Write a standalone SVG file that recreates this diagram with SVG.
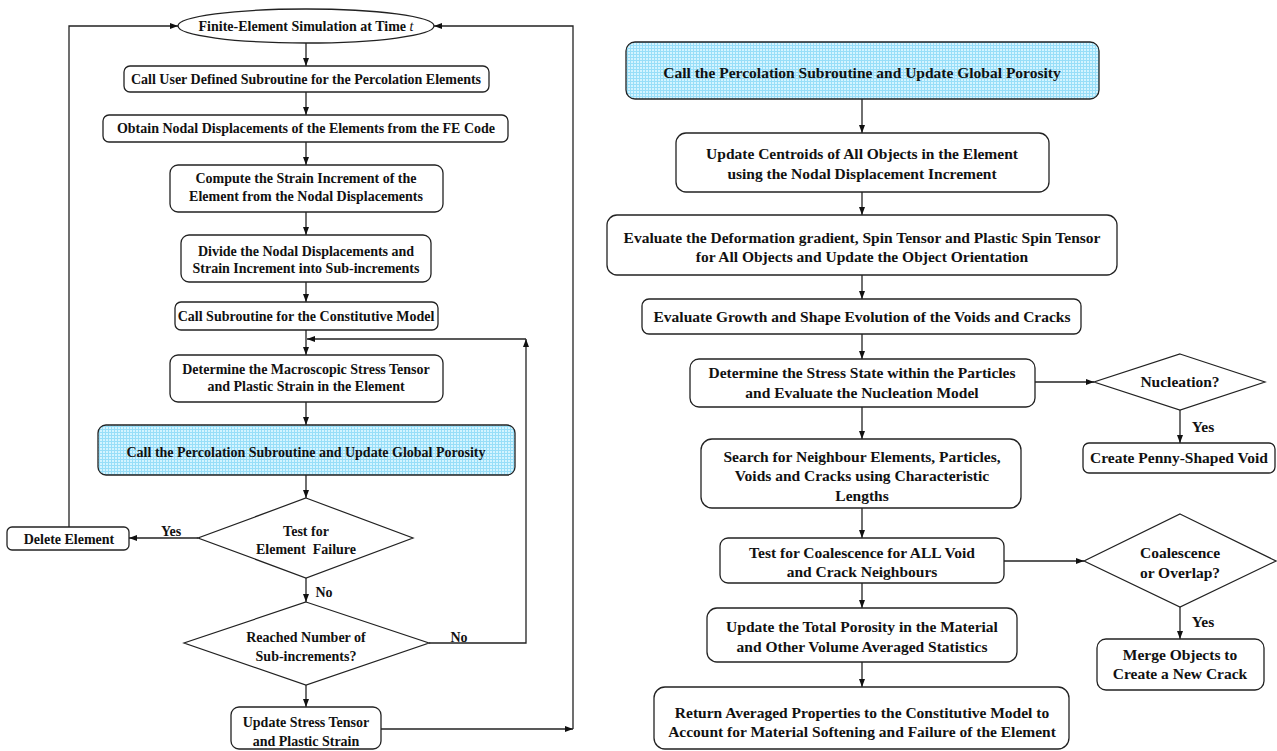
<svg xmlns="http://www.w3.org/2000/svg" width="1277" height="751" viewBox="0 0 1277 751">
  <defs>
    <pattern id="grid" width="3" height="3" patternUnits="userSpaceOnUse">
      <rect width="3" height="3" fill="#d4f4ff"/>
      <rect width="3" height="1" fill="#98def8"/>
      <rect width="1" height="3" fill="#98def8"/>
    </pattern>
    <marker id="arr" viewBox="0 0 8 6" refX="8" refY="3" markerWidth="8" markerHeight="6" markerUnits="userSpaceOnUse" orient="auto">
      <path d="M0,0 L8,3 L0,6 z" fill="#111"/>
    </marker>
    <style>
      .box { fill: #fff; stroke: #222; stroke-width: 1.3; }
      .hi { fill: url(#grid); stroke: #222; stroke-width: 1.3; }
      .dia { fill: #fff; stroke: #222; stroke-width: 1.2; }
      .t { font-family: "Liberation Serif", "Times New Roman", serif; font-weight: bold; fill: #111; text-anchor: middle; }
      .l { font-size: 14px; }
      .r { font-size: 15.5px; }
      .c { fill: none; stroke: #222; stroke-width: 1.3; }
      .pre { white-space: pre; }
    </style>
  </defs>

  <!-- connectors -->
  <g id="connectors">
    <!-- left column -->
    <path class="c" d="M306,43 V66" marker-end="url(#arr)"/>
    <path class="c" d="M306,92 V115" marker-end="url(#arr)"/>
    <path class="c" d="M306,142 V165" marker-end="url(#arr)"/>
    <path class="c" d="M306,212 V235" marker-end="url(#arr)"/>
    <path class="c" d="M306,282 V302" marker-end="url(#arr)"/>
    <path class="c" d="M306,330 V355" marker-end="url(#arr)"/>
    <path class="c" d="M306,402 V425" marker-end="url(#arr)"/>
    <path class="c" d="M306,475 V498" marker-end="url(#arr)"/>
    <path class="c" d="M306,578 V602" marker-end="url(#arr)"/>
    <path class="c" d="M306,685 V707" marker-end="url(#arr)"/>
    <path class="c" d="M198,538 H129" marker-end="url(#arr)"/>
    <path class="c" d="M69,527 V26 H178" marker-end="url(#arr)"/>
    <path class="c" d="M429,643 H526 V339" marker-end="url(#arr)"/>
    <path class="c" d="M526,339 H307" marker-end="url(#arr)"/>
    <path class="c" d="M381,729 H573" marker-end="url(#arr)"/>
    <path class="c" d="M573,729 V26 H434" marker-end="url(#arr)"/>
    <!-- right column -->
    <path class="c" d="M862,99 V133" marker-end="url(#arr)"/>
    <path class="c" d="M862,192 V215" marker-end="url(#arr)"/>
    <path class="c" d="M862,275 V299" marker-end="url(#arr)"/>
    <path class="c" d="M862,334 V359" marker-end="url(#arr)"/>
    <path class="c" d="M862,407 V439" marker-end="url(#arr)"/>
    <path class="c" d="M862,508 V538" marker-end="url(#arr)"/>
    <path class="c" d="M862,583 V608" marker-end="url(#arr)"/>
    <path class="c" d="M862,662 V687" marker-end="url(#arr)"/>
    <path class="c" d="M1035,382 H1094" marker-end="url(#arr)"/>
    <path class="c" d="M1180,410 V443" marker-end="url(#arr)"/>
    <path class="c" d="M1004,561 H1084" marker-end="url(#arr)"/>
    <path class="c" d="M1180,607 V639" marker-end="url(#arr)"/>
  </g>

  <!-- left flow -->
  <g id="start">
    <ellipse class="box" cx="306" cy="26" rx="128" ry="17"/>
    <text class="t l" x="306" y="31">Finite-Element Simulation at Time <tspan font-style="italic" font-weight="normal">t</tspan></text>
  </g>
  <g id="call-user">
    <rect class="box" x="124" y="66" width="365" height="26" rx="6"/>
    <text class="t l" x="306" y="84">Call User Defined Subroutine for the Percolation Elements</text>
  </g>
  <g id="obtain-nodal">
    <rect class="box" x="103" y="115" width="405" height="27" rx="6"/>
    <text class="t l" x="306" y="133">Obtain Nodal Displacements of the Elements from the FE Code</text>
  </g>
  <g id="compute-strain">
    <rect class="box" x="170" y="165" width="273" height="47" rx="8"/>
    <text class="t l" x="306" y="183">Compute the Strain Increment of the</text>
    <text class="t l" x="306" y="201">Element from the Nodal Displacements</text>
  </g>
  <g id="divide">
    <rect class="box" x="181" y="235" width="250" height="47" rx="8"/>
    <text class="t l" x="306" y="256">Divide the Nodal Displacements and</text>
    <text class="t l" x="306" y="273">Strain Increment into Sub-increments</text>
  </g>
  <g id="call-constitutive">
    <rect class="box" x="175" y="302" width="263" height="28" rx="6"/>
    <text class="t l" x="306" y="321">Call Subroutine for the Constitutive Model</text>
  </g>
  <g id="determine-stress">
    <rect class="box" x="170" y="355" width="273" height="47" rx="8"/>
    <text class="t l" x="306" y="374">Determine the Macroscopic Stress Tensor</text>
    <text class="t l" x="306" y="391">and Plastic Strain in the Element</text>
  </g>
  <g id="percolation-left">
    <rect class="hi" x="98" y="425" width="417" height="50" rx="8"/>
    <text class="t l" x="306" y="457">Call the Percolation Subroutine and Update Global Porosity</text>
  </g>
  <g id="test-failure">
    <polygon class="dia" points="306,498 413,538 306,578 198,538"/>
    <text class="t l" x="306" y="536">Test for</text>
    <text class="t l pre" x="306" y="554">Element  Failure</text>
  </g>
  <g id="delete-element">
    <rect class="box" x="7" y="527" width="122" height="23" rx="5"/>
    <text class="t l" x="69" y="544">Delete Element</text>
  </g>
  <g id="sub-increments">
    <polygon class="dia" points="306,602 429,643 306,685 184,643"/>
    <text class="t l" x="306" y="642">Reached Number of</text>
    <text class="t l" x="306" y="661">Sub-increments?</text>
  </g>
  <g id="update-stress">
    <rect class="box" x="231" y="707" width="150" height="42" rx="8"/>
    <text class="t l" x="306" y="727">Update Stress Tensor</text>
    <text class="t l" x="306" y="746">and Plastic Strain</text>
  </g>
  <g id="left-labels">
    <text class="t l" x="171" y="536">Yes</text>
    <text class="t l" x="324" y="597">No</text>
    <text class="t l" x="459" y="642">No</text>
  </g>

  <!-- right flow -->
  <g id="percolation-right">
    <rect class="hi" x="626" y="42" width="473" height="57" rx="9"/>
    <text class="t r" x="862" y="78">Call the Percolation Subroutine and Update Global Porosity</text>
  </g>
  <g id="update-centroids">
    <rect class="box" x="676" y="133" width="373" height="59" rx="10"/>
    <text class="t r" x="862" y="159">Update Centroids of All Objects in the Element</text>
    <text class="t r" x="862" y="179">using the Nodal Displacement Increment</text>
  </g>
  <g id="deformation">
    <rect class="box" x="607" y="215" width="510" height="60" rx="10"/>
    <text class="t r" x="862" y="243">Evaluate the Deformation gradient, Spin Tensor and Plastic Spin Tensor</text>
    <text class="t r" x="862" y="262">for All Objects and Update the Object Orientation</text>
  </g>
  <g id="growth">
    <rect class="box" x="642" y="299" width="439" height="35" rx="7"/>
    <text class="t r" x="862" y="322">Evaluate Growth and Shape Evolution of the Voids and Cracks</text>
  </g>
  <g id="stress-state">
    <rect class="box" x="690" y="359" width="345" height="48" rx="9"/>
    <text class="t r" x="862" y="378">Determine the Stress State within the Particles</text>
    <text class="t r" x="862" y="398">and Evaluate the Nucleation Model</text>
  </g>
  <g id="nucleation">
    <polygon class="dia" points="1180,354 1265,382 1180,410 1094,382"/>
    <text class="t r" x="1180" y="387">Nucleation?</text>
  </g>
  <g id="penny-void">
    <rect class="box" x="1083" y="443" width="192" height="30" rx="6"/>
    <text class="t r" x="1179" y="463">Create Penny-Shaped Void</text>
  </g>
  <g id="neighbour-search">
    <rect class="box" x="701" y="439" width="320" height="69" rx="11"/>
    <text class="t r" x="862" y="462">Search for Neighbour Elements, Particles,</text>
    <text class="t r" x="862" y="481">Voids and Cracks using Characteristic</text>
    <text class="t r" x="862" y="501">Lengths</text>
  </g>
  <g id="coalescence-test">
    <rect class="box" x="720" y="538" width="284" height="45" rx="8"/>
    <text class="t r" x="862" y="558">Test for Coalescence for ALL Void</text>
    <text class="t r" x="862" y="577">and Crack Neighbours</text>
  </g>
  <g id="coalescence">
    <polygon class="dia" points="1180,514 1276,561 1180,607 1084,561"/>
    <text class="t r" x="1180" y="558">Coalescence</text>
    <text class="t r" x="1180" y="578">or Overlap?</text>
  </g>
  <g id="merge">
    <rect class="box" x="1097" y="639" width="167" height="51" rx="9"/>
    <text class="t r" x="1180" y="660">Merge Objects to</text>
    <text class="t r" x="1180" y="679">Create a New Crack</text>
  </g>
  <g id="total-porosity">
    <rect class="box" x="707" y="608" width="310" height="54" rx="10"/>
    <text class="t r" x="862" y="632">Update the Total Porosity in the Material</text>
    <text class="t r" x="862" y="652">and Other Volume Averaged Statistics</text>
  </g>
  <g id="return-properties">
    <rect class="box" x="654" y="687" width="415" height="62" rx="11"/>
    <text class="t r" x="862" y="718">Return Averaged Properties to the Constitutive Model to</text>
    <text class="t r" x="862" y="737">Account for Material Softening and Failure of the Element</text>
  </g>
  <g id="right-labels">
    <text class="t r" x="1203" y="432">Yes</text>
    <text class="t r" x="1203" y="627">Yes</text>
  </g>
</svg>
